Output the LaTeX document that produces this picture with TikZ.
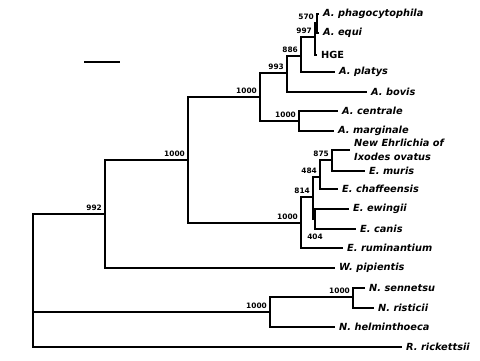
\documentclass[tikz,border=0pt]{standalone}
\usepackage{fontspec}
\newfontfamily\dejavu{DejaVu Sans}[BoldFont={DejaVu Sans Bold},ItalicFont={DejaVu Sans Oblique},BoldItalicFont={DejaVu Sans Bold Oblique}]
\tikzset{
  br/.style={line width=2.5pt},
  leaf/.style={anchor=west, inner xsep=4pt, inner ysep=0pt, align=left,
    font=\dejavu\bfseries\itshape\fontsize{9.8}{13.5}\selectfont},
  bsnum/.style={inner sep=1pt, font=\dejavu\bfseries\fontsize{7.4}{8}\selectfont},
  bs/.style={bsnum, anchor=south east, xshift=-2pt, yshift=2pt}
}
\begin{document}
\begin{tikzpicture}[x=1pt,y=-1pt]
  \useasboundingbox (0,0) rectangle (480,360);
  % internal nodes
  \coordinate (root) at (33,280);
  \coordinate (n992) at (105,214);
  \coordinate (n1000a) at (188,160);
  \coordinate (nAna) at (260,97);
  \coordinate (n993) at (287,73);
  \coordinate (n886) at (301,56);
  \coordinate (n997) at (315,37);
  \coordinate (n570) at (317,23);
  \coordinate (nCM) at (299,121);
  \coordinate (nEhr) at (301,223);
  \coordinate (n814) at (313,197);
  \coordinate (n484) at (320,177);
  \coordinate (n875) at (332,160);
  \coordinate (n404) at (315,219);
  \coordinate (nNeo) at (270,312);
  \coordinate (nNS) at (353,297);
  % leaves
  \node[leaf] (phago) at (319,14) {A. phagocytophila};
  \node[leaf] (equi) at (319,33) {A. equi};
  \node[leaf, font=\dejavu\bfseries\fontsize{9.8}{13.5}\selectfont] (hge) at (317,55) {HGE};
  \node[leaf] (platys) at (335,72) {A. platys};
  \node[leaf] (bovis) at (367,92) {A. bovis};
  \node[leaf] (centrale) at (338,111) {A. centrale};
  \node[leaf] (marginale) at (334,131) {A. marginale};
  \node[leaf] (newE) at (350,150) {New Ehrlichia of\\Ixodes ovatus};
  \node[leaf] (muris) at (365,171) {E. muris};
  \node[leaf] (chaff) at (338,189) {E. chaffeensis};
  \node[leaf] (ewingii) at (349,209) {E. ewingii};
  \node[leaf] (canis) at (356,229) {E. canis};
  \node[leaf] (rumin) at (343,248) {E. ruminantium};
  \node[leaf] (wpip) at (335,268) {W. pipientis};
  \node[leaf] (sennetsu) at (365,288) {N. sennetsu};
  \node[leaf] (risticii) at (374,308) {N. risticii};
  \node[leaf] (helm) at (335,327) {N. helminthoeca};
  \node[leaf] (rick) at (402,347) {R. rickettsii};
  % branches
  \draw[br] (root) |- (n992);
  \draw[br] (root) |- (nNeo);
  \draw[br] (root) |- (rick.west);
  \draw[br] (n992) |- (n1000a);
  \draw[br] (n992) |- (wpip.west);
  \draw[br] (n1000a) |- (nAna);
  \draw[br] (n1000a) |- (nEhr);
  \draw[br] (nAna) |- (n993);
  \draw[br] (nAna) |- (nCM);
  \draw[br] (n993) |- (n886);
  \draw[br] (n993) |- (bovis.west);
  \draw[br] (n886) |- (n997);
  \draw[br] (n886) |- (platys.west);
  \draw[br] (n997) |- (n570);
  \draw[br] (n997) |- (hge.west);
  \draw[br] (n570) |- (phago.west);
  \draw[br] (n570) |- (equi.west);
  \draw[br] (nCM) |- (centrale.west);
  \draw[br] (nCM) |- (marginale.west);
  \draw[br] (nEhr) |- (n814);
  \draw[br] (nEhr) |- (rumin.west);
  \draw[br] (n814) |- (n484);
  \draw[br] (n814) |- (n404);
  \draw[br] (n484) |- (n875);
  \draw[br] (n484) |- (chaff.west);
  \draw[br] (n875) |- (newE.west);
  \draw[br] (n875) |- (muris.west);
  \draw[br] (n404) |- (ewingii.west);
  \draw[br] (n404) |- (canis.west);
  \draw[br] (nNeo) |- (nNS);
  \draw[br] (nNeo) |- (helm.west);
  \draw[br] (nNS) |- (sennetsu.west);
  \draw[br] (nNS) |- (risticii.west);
  % bootstrap values
  \node[bs] at (n992) {992};
  \node[bs] at (n1000a) {1000};
  \node[bs] at (nAna) {1000};
  \node[bs] at (n993) {993};
  \node[bs] at (n886) {886};
  \node[bs] at (n997) {997};
  \node[bs] at (n570) {570};
  \node[bs] at (nCM) {1000};
  \node[bs] at (nEhr) {1000};
  \node[bs] at (n814) {814};
  \node[bs] at (n484) {484};
  \node[bs] at (n875) {875};
  \node[bsnum, yshift=-18pt] at (n404) {404};
  \node[bs] at (nNeo) {1000};
  \node[bs] at (nNS) {1000};
  % scale bar
  \coordinate (sbl) at (84,62);
  \coordinate (sbr) at (120,62);
  \draw[line width=1.2pt] (sbl) -- (sbr);
\end{tikzpicture}
\end{document}
